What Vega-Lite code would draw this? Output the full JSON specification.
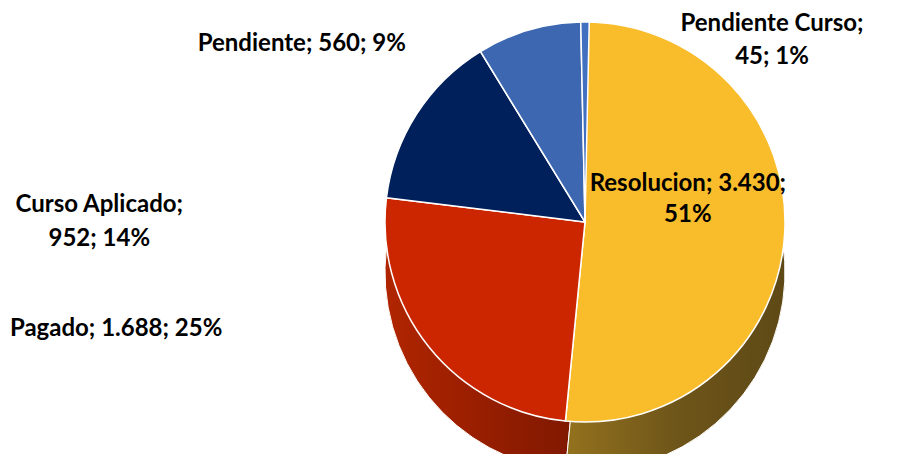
{
  "$schema": "https://vega.github.io/schema/vega-lite/v6.json",
  "autosize": "none",
  "width": 400,
  "height": 400,
  "padding": {"left": 385, "right": 133, "top": 22, "bottom": 32},
  "background": "white",
  "config": {"view": {"stroke": null}},
  "data": {
    "values": [
      {"categoria": "Resolucion", "valor": 3430, "pct": 51},
      {"categoria": "Pagado", "valor": 1688, "pct": 25},
      {"categoria": "Curso Aplicado", "valor": 952, "pct": 14},
      {"categoria": "Pendiente", "valor": 560, "pct": 9},
      {"categoria": "Pendiente Curso", "valor": 45, "pct": 1}
    ]
  },
  "transform": [
    {"window": [{"op": "row_number", "as": "idx"}]},
    {"stack": "valor", "groupby": [], "sort": [{"field": "idx", "order": "ascending"}], "as": ["t0", "t1"]},
    {"calculate": "(datum.t0 + datum.t1) / 2", "as": "tm"},
    {"calculate": "replace(format(datum.valor, ','), ',', '.')", "as": "vtxt"}
  ],
  "layer": [
    {
      "transform": [{"filter": "datum.categoria === 'Pagado'"}],
      "mark": {"type": "arc", "yOffset": 50, "stroke": "white", "strokeWidth": 1,
        "fill": {"gradient": "linear", "x1": 0, "x2": 1, "y1": 0, "y2": 0,
          "stops": [{"offset": 0, "color": "#B02500"}, {"offset": 0.4, "color": "#9C1F00"}, {"offset": 1, "color": "#7C1800"}]}},
      "encoding": {
        "theta": {"field": "t0", "type": "quantitative"},
        "theta2": {"field": "t1"}
      }
    },
    {
      "transform": [{"filter": "datum.categoria === 'Resolucion'"}],
      "mark": {"type": "arc", "yOffset": 50, "stroke": "white", "strokeWidth": 1,
        "fill": {"gradient": "linear", "x1": 0, "x2": 1, "y1": 0, "y2": 0,
          "stops": [{"offset": 0, "color": "#94721E"}, {"offset": 0.5, "color": "#6E5519"}, {"offset": 1, "color": "#5E4916"}]}},
      "encoding": {
        "theta": {"field": "t0", "type": "quantitative"},
        "theta2": {"field": "t1"}
      }
    },
    {
      "mark": {"type": "arc", "stroke": "white", "strokeWidth": 1.5},
      "encoding": {
        "theta": {"field": "t0", "type": "quantitative"},
        "theta2": {"field": "t1"},
        "color": {
          "field": "categoria", "type": "nominal",
          "scale": {
            "domain": ["Resolucion", "Pagado", "Curso Aplicado", "Pendiente", "Pendiente Curso"],
            "range": ["#F9BC2A", "#CC2600", "#00205C", "#3D67B1", "#4270C0"]
          },
          "legend": null
        }
      }
    },
    {
      "transform": [
        {"filter": "datum.categoria === 'Resolucion'"},
        {"calculate": "datum.categoria + '; ' + datum.vtxt + ';|' + datum.pct + '%'", "as": "lbl"}
      ],
      "mark": {"type": "text", "font": "Lato", "fontWeight": "bold", "fontSize": 24, "lineHeight": 31, "lineBreak": "|", "align": "center", "baseline": "middle", "color": "black", "dx": -7, "dy": -43},
      "encoding": {
        "theta": {"field": "tm", "type": "quantitative", "stack": null},
        "radius": {"value": 110},
        "text": {"field": "lbl"}
      }
    },
    {
      "transform": [
        {"filter": "datum.categoria === 'Pagado'"},
        {"calculate": "datum.categoria + '; ' + datum.vtxt + '; ' + datum.pct + '%'", "as": "lbl"}
      ],
      "mark": {"type": "text", "font": "Lato", "fontWeight": "bold", "fontSize": 24, "lineHeight": 33, "lineBreak": "|", "align": "center", "baseline": "middle", "color": "black", "dx": -305, "dy": -24},
      "encoding": {
        "theta": {"field": "tm", "type": "quantitative", "stack": null},
        "radius": {"value": 210},
        "text": {"field": "lbl"}
      }
    },
    {
      "transform": [
        {"filter": "datum.categoria === 'Curso Aplicado'"},
        {"calculate": "datum.categoria + ';|' + datum.vtxt + '; ' + datum.pct + '%'", "as": "lbl"}
      ],
      "mark": {"type": "text", "font": "Lato", "fontWeight": "bold", "fontSize": 24, "lineHeight": 34, "lineBreak": "|", "align": "center", "baseline": "middle", "color": "black", "dx": -309, "dy": 97},
      "encoding": {
        "theta": {"field": "tm", "type": "quantitative", "stack": null},
        "radius": {"value": 210},
        "text": {"field": "lbl"}
      }
    },
    {
      "transform": [
        {"filter": "datum.categoria === 'Pendiente'"},
        {"calculate": "datum.categoria + '; ' + datum.vtxt + '; ' + datum.pct + '%'", "as": "lbl"}
      ],
      "mark": {"type": "text", "font": "Lato", "fontWeight": "bold", "fontSize": 24, "lineHeight": 33, "lineBreak": "|", "align": "center", "baseline": "middle", "color": "black", "dx": -224, "dy": 23},
      "encoding": {
        "theta": {"field": "tm", "type": "quantitative", "stack": null},
        "radius": {"value": 210},
        "text": {"field": "lbl"}
      }
    },
    {
      "transform": [
        {"filter": "datum.categoria === 'Pendiente Curso'"},
        {"calculate": "datum.categoria + ';|' + datum.vtxt + '; ' + datum.pct + '%'", "as": "lbl"}
      ],
      "mark": {"type": "text", "font": "Lato", "fontWeight": "bold", "fontSize": 24, "lineHeight": 33, "lineBreak": "|", "align": "center", "baseline": "middle", "color": "black", "dx": 187, "dy": 12},
      "encoding": {
        "theta": {"field": "tm", "type": "quantitative", "stack": null},
        "radius": {"value": 210},
        "text": {"field": "lbl"}
      }
    }
  ]
}
